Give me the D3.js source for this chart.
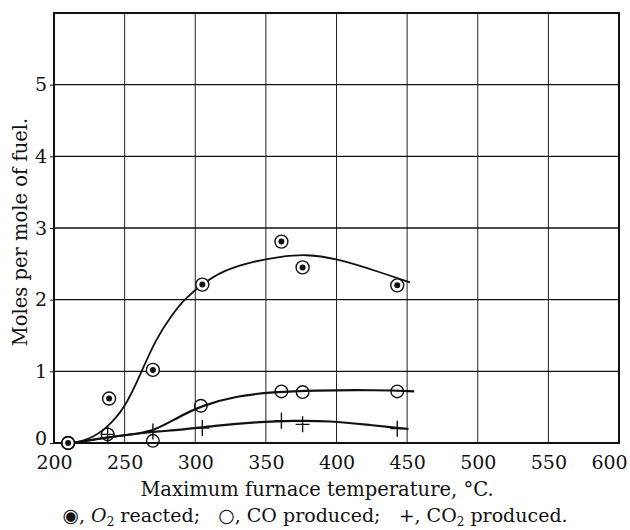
<!DOCTYPE html>
<html>
<head>
<meta charset="utf-8">
<script src="https://cdn.jsdelivr.net/npm/d3@7"></script>
<style>
  body { margin: 0; background: #fff; }
  text { font-family: "DejaVu Serif", serif; fill: #111; }
</style>
</head>
<body>
<div id="chart"></div>
<script>
const width = 630;
const height = 530;

// x ticks (deg C) and y ticks (moles)
const xTicks = [200, 250, 300, 350, 400, 450, 500, 550, 600];
const yTicks = [0, 1, 2, 3, 4, 5, 6];

// measured points
const o2Points = [[210, 0], [239, 0.62], [270, 1.02], [305, 2.21], [361, 2.81], [376, 2.45], [443, 2.2]];
const coPoints = [[210, 0], [238, 0.12], [270, 0.03], [304, 0.52], [361, 0.72], [376, 0.71], [443, 0.72]];
const co2Points = [[238, 0.12], [270, 0.16], [305, 0.21], [361, 0.31], [376, 0.26], [443, 0.2]];

// smoothed curves as drawn
const o2Curve = [[213, 0], [225, 0.05], [237, 0.2], [250, 0.48], [261, 0.95], [272, 1.45], [284, 1.8], [292, 2.0],
  [305, 2.22], [320, 2.41], [340, 2.53], [360, 2.6], [378, 2.635], [399, 2.58], [430, 2.39], [452, 2.24]];
const coCurve = [[213, 0], [238, 0.08], [255, 0.12], [270, 0.16], [287, 0.35], [304, 0.52], [330, 0.66],
  [355, 0.71], [383, 0.735], [430, 0.74], [455, 0.72]];
const co2Curve = [[213, 0], [238, 0.08], [270, 0.16], [289, 0.18], [312, 0.24], [348, 0.3], [370, 0.31],
  [395, 0.31], [424, 0.25], [451, 0.195]];

const margin = {left: 54, right: 11, top: 13, bottom: 87};

var svg = d3.select("#chart").append("svg")
  .attr("width", width)
  .attr("height", height);

const x = d3.scaleLinear().domain([200, 600]).range([margin.left, width - margin.right]);
const y = d3.scaleLinear().domain([0, 6]).range([height - margin.bottom, margin.top]);

// grid
const grid = svg.append("g");
grid.selectAll("line.v")
  .data(xTicks.slice(1, -1))
  .enter().append("line")
  .attr("x1", d => x(d)).attr("x2", d => x(d))
  .attr("y1", y(6)).attr("y2", y(0))
  .attr("stroke", "#222").attr("stroke-width", 1);
grid.selectAll("line.h")
  .data(yTicks.slice(1, -1))
  .enter().append("line")
  .attr("x1", x(200)).attr("x2", x(600))
  .attr("y1", d => y(d)).attr("y2", d => y(d))
  .attr("stroke", "#111").attr("stroke-width", 1.3);

// frame
svg.append("rect")
  .attr("x", x(200)).attr("y", y(6))
  .attr("width", x(600) - x(200)).attr("height", y(0) - y(6))
  .attr("fill", "none").attr("stroke", "#111").attr("stroke-width", 2);

// axes
const xAxis = svg.append("g")
  .attr("transform", "translate(0," + y(0) + ")")
  .call(d3.axisBottom(x).tickValues(xTicks).tickSize(0).tickPadding(13).tickFormat(d3.format("d")));
const yAxis = svg.append("g")
  .attr("transform", "translate(" + x(200) + ",0)")
  .call(d3.axisLeft(y).tickValues(yTicks.slice(0, -1)).tickSize(4).tickPadding(3).tickFormat(d3.format("d")));
[xAxis, yAxis].forEach(function(a) {
  a.select(".domain").remove();
  a.selectAll("text").style("font-family", "DejaVu Serif").style("font-size", "19px").attr("fill", "#111");
  a.selectAll("line").attr("stroke", "#111");
});
yAxis.selectAll(".tick").filter(d => d === 0).select("text").attr("dy", "0.1em");
// last x label sits against the page edge
xAxis.selectAll(".tick").filter(d => d === 600).select("text").attr("dx", -10);

// curves
const line = d3.line()
  .x(d => x(d[0]))
  .y(d => y(d[1]))
  .curve(d3.curveBasis);
[[o2Curve, 1.8], [coCurve, 2.2], [co2Curve, 2.2]].forEach(function(c) {
  svg.append("path")
    .datum(c[0])
    .attr("d", line)
    .attr("fill", "none")
    .attr("stroke", "#111")
    .attr("stroke-width", c[1]);
});

// markers
svg.append("g").selectAll("g")
  .data(o2Points)
  .enter().append("g")
  .attr("transform", d => "translate(" + x(d[0]) + "," + y(d[1]) + ")")
  .each(function() {
    d3.select(this).append("circle").attr("r", 6.5).attr("fill", "#fff").attr("stroke", "#111").attr("stroke-width", 1.4);
    d3.select(this).append("circle").attr("r", 3).attr("fill", "#111");
  });

svg.append("g").selectAll("circle")
  .data(coPoints)
  .enter().append("circle")
  .attr("cx", d => x(d[0]))
  .attr("cy", d => y(d[1]))
  .attr("r", 6.3)
  .attr("fill", "none")
  .attr("stroke", "#111")
  .attr("stroke-width", 1.4);

svg.append("g").selectAll("path")
  .data(co2Points)
  .enter().append("path")
  .attr("d", d => "M" + (x(d[0]) - 7) + "," + y(d[1]) + "h14M" + x(d[0]) + "," + (y(d[1]) - 8) + "v16")
  .attr("stroke", "#111")
  .attr("stroke-width", 1.4);

// axis titles
svg.append("text")
  .attr("x", 317)
  .attr("y", 496)
  .attr("text-anchor", "middle")
  .style("font-size", "19.5px")
  .text("Maximum furnace temperature, °C.");

svg.append("text")
  .attr("transform", "translate(27," + 232 + ") rotate(-90)")
  .attr("text-anchor", "middle")
  .style("font-size", "19.5px")
  .text("Moles per mole of fuel.");

// legend line
const legend = svg.append("text")
  .attr("x", 315)
  .attr("y", 522)
  .attr("text-anchor", "middle")
  .style("font-size", "19px");
legend.append("tspan").text("◉, ");
legend.append("tspan").style("font-style", "italic").text("O");
legend.append("tspan").attr("dy", 4).style("font-size", "12px").text("2");
legend.append("tspan").attr("dy", -4).text(" reacted;\u00a0\u00a0\u00a0○, CO produced;\u00a0\u00a0\u00a0+, CO");
legend.append("tspan").attr("dy", 4).style("font-size", "12px").text("2");
legend.append("tspan").attr("dy", -4).text(" produced.");
</script>
</body>
</html>
